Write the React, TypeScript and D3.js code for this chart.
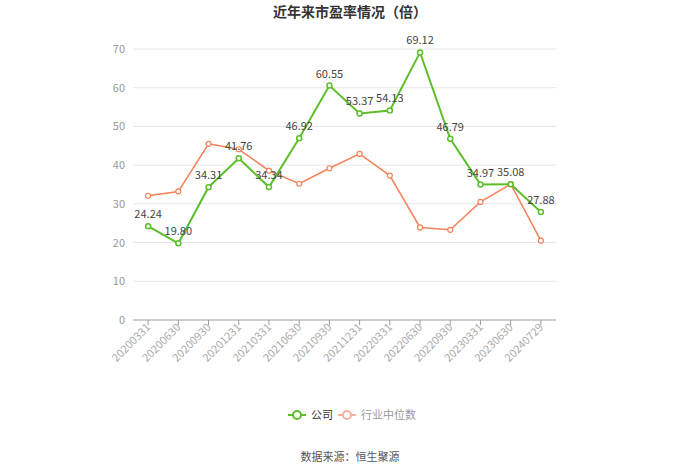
import React from "react";
import * as d3 from "d3";

const categories = ["20200331","20200630","20200930","20201231","20210331","20210630","20210930","20211231","20220331","20220630","20220930","20230331","20230630","20240729"];
const companyValues = [24.24,19.80,34.31,41.76,34.34,46.92,60.55,53.37,54.13,69.12,46.79,34.97,35.08,27.88];
const industryValues = [32.1,33.2,45.5,44.1,38.6,35.2,39.2,42.9,37.3,23.9,23.3,30.5,35.1,20.5];
const yTicks = [0,10,20,30,40,50,60,70];
const seriesNames = ["公司","行业中位数"];

const W = 700, H = 474;
const left = 133, right = 556, top = 49, bottom = 320;
const green = "#5cbf2a";
const orange = "#f4825a";
const font = "'Microsoft YaHei','Noto Sans CJK SC','Noto Sans',sans-serif";

export default function App() {
  const x = d3.scaleBand<string>().domain(categories).range([left, right]);
  const cx = (c: string) => (x(c) as number) + x.bandwidth() / 2;
  const y = d3.scaleLinear().domain([0, 70]).range([bottom, top]);
  const line = d3.line<number>().x((_, i) => cx(categories[i])).y((d) => y(d));

  return (
    <svg width={W} height={H} style={{ position: "absolute", left: 0, top: 0, fontFamily: font }}>
      <rect width={W} height={H} fill="#fff" />
      <text x={350} y={17} textAnchor="middle" fontSize={14} fontWeight="bold" fill="#333">近年来市盈率情况（倍）</text>
      {yTicks.map((t) => (
        <g key={t}>
          {t > 0 && <line x1={left} x2={right} y1={y(t)} y2={y(t)} stroke="#e6e6e6" />}
          <text x={125} y={y(t) + 4} textAnchor="end" fontSize={11} fill="#999">{t}</text>
        </g>
      ))}
      <line x1={left} x2={right} y1={bottom} y2={bottom} stroke="#999" />
      {categories.map((c) => (
        <g key={c}>
          <line x1={cx(c)} x2={cx(c)} y1={bottom} y2={bottom + 5} stroke="#999" />
          <text transform={`translate(${cx(c) + 3},${bottom + 8}) rotate(-45)`} textAnchor="end" fontSize={11} fill="#aaa">{c}</text>
        </g>
      ))}
      <path d={line(industryValues) as string} fill="none" stroke={orange} strokeWidth={1.5} />
      {industryValues.map((v, i) => (
        <circle key={i} cx={cx(categories[i])} cy={y(v)} r={2.5} fill="#fff" stroke={orange} strokeWidth={1.2} />
      ))}
      <path d={line(companyValues) as string} fill="none" stroke={green} strokeWidth={2} />
      {companyValues.map((v, i) => (
        <circle key={i} cx={cx(categories[i])} cy={y(v)} r={2.5} fill="#fff" stroke={green} strokeWidth={1.5} />
      ))}
      {companyValues.map((v, i) => (
        <text key={i} x={cx(categories[i])} y={y(v) - 8} textAnchor="middle" fontSize={11} fill="#444">{v.toFixed(2)}</text>
      ))}
      <g>
        <line x1={288} x2={306} y1={415} y2={415} stroke={green} strokeWidth={2} />
        <circle cx={297} cy={415} r={4} fill="#fff" stroke={green} strokeWidth={2} />
        <text x={311} y={419} fontSize={11} fill="#333">{seriesNames[0]}</text>
        <line x1={338} x2={356} y1={415} y2={415} stroke="#f7b09a" strokeWidth={2} />
        <circle cx={347} cy={415} r={4} fill="#fff" stroke="#f7b09a" strokeWidth={2} />
        <text x={361} y={419} fontSize={11} fill="#999">{seriesNames[1]}</text>
      </g>
      <text x={350} y={461} textAnchor="middle" fontSize={11} fill="#555">数据来源：恒生聚源</text>
    </svg>
  );
}
